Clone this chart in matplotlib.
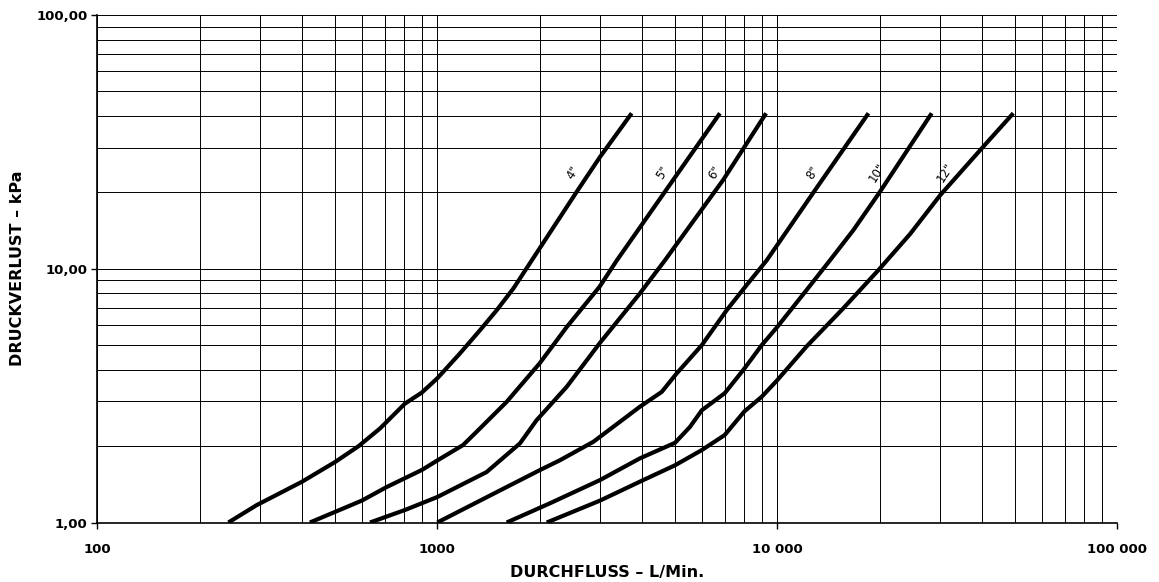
import matplotlib
matplotlib.use("Agg")
import matplotlib.pyplot as plt

# flow (L/Min.) and pressure loss (kPa), one pair of lists per pipe size
flow_4 = [243, 294, 399, 500, 587, 679, 803, 900, 1000, 1166, 1336, 1496, 1675, 1897, 2570, 3011, 3730]
loss_4 = [1.0, 1.17, 1.445, 1.73, 2.0, 2.35, 2.94, 3.25, 3.7, 4.64, 5.73, 6.87, 8.37, 10.8, 20.1, 27.6, 41.0]

flow_5 = [422, 600, 710, 900, 1003, 1191, 1306, 1600, 2000, 2404, 3000, 3375, 4942, 6780]
loss_5 = [1.0, 1.22, 1.38, 1.61, 1.76, 2.02, 2.28, 2.99, 4.24, 5.9, 8.49, 10.8, 22.4, 41.0]

flow_6 = [634, 803, 1000, 1396, 1750, 1959, 2404, 3000, 3945, 4673, 6934, 9270]
loss_6 = [1.0, 1.12, 1.26, 1.58, 2.05, 2.53, 3.43, 5.08, 8.0, 10.8, 22.4, 41.0]

flow_8 = [1000, 1600, 2005, 2296, 2877, 3945, 4571, 5060, 5998, 7101, 8128, 9310, 12910, 18540]
loss_8 = [1.0, 1.38, 1.61, 1.76, 2.08, 2.86, 3.27, 3.87, 5.0, 6.87, 8.63, 10.8, 20.4, 41.0]

flow_10 = [1600, 2143, 3011, 3945, 5000, 5534, 6000, 7000, 8000, 9000, 10000, 12190, 14290, 16740, 20040, 28450]
loss_10 = [1.0, 1.19, 1.47, 1.79, 2.06, 2.38, 2.77, 3.23, 4.04, 5.0, 5.9, 8.24, 10.8, 14.2, 20.1, 41.0]

flow_12 = [2099, 3011, 4036, 5000, 6000, 7000, 8000, 9000, 10000, 12190, 15630, 20000, 24570, 30140, 40360, 49440]
loss_12 = [1.0, 1.22, 1.47, 1.68, 1.93, 2.21, 2.74, 3.13, 3.64, 4.94, 6.98, 10.0, 13.7, 19.5, 30.3, 41.0]

sizes = ['4"', '5"', '6"', '8"', '10"', '12"']
flows = [flow_4, flow_5, flow_6, flow_8, flow_10, flow_12]
losses = [loss_4, loss_5, loss_6, loss_8, loss_10, loss_12]

x_ticks = [100, 1000, 10000, 100000]
x_labels = ['100', '1000', '10 000', '100 000']
y_ticks = [1, 10, 100]
y_labels = ['1,00', '10,00', '100,00']

# where the size labels sit, just left of each curve
label_x = [2506, 4615, 6560, 12740, 19630, 31100]
label_y = 24.0

plt.rcParams['font.family'] = ['DejaVu Sans']

fig = plt.figure(figsize=(11.59, 5.82), dpi=100)
ax = fig.add_axes([97.3 / 1159, 1 - 522.5 / 582, 1020 / 1159, 507.5 / 582])

ax.set_xscale('log')
ax.set_yscale('log')
ax.set_xlim(100, 100000)
ax.set_ylim(1, 100)

ax.grid(True, which='both', color='black', linewidth=0.7)
ax.set_axisbelow(True)

for fl, lo in zip(flows, losses):
    ax.plot(fl, lo, color='black', linewidth=3.0, solid_capstyle='butt', solid_joinstyle='round')

for name, lx in zip(sizes, label_x):
    ax.text(lx, label_y, name, fontsize=8.5, rotation=57, ha='center', va='center')

ax.set_xticks(x_ticks, labels=x_labels)
ax.set_yticks(y_ticks, labels=y_labels)
ax.tick_params(which='minor', length=0)
ax.tick_params(which='major', length=4, width=1, direction='out')
ax.tick_params(axis='x', pad=11)
ax.tick_params(axis='y', pad=3)
for lab in ax.get_xticklabels() + ax.get_yticklabels():
    lab.set_fontweight('bold')
    lab.set_fontsize(9.5)

for side in ['top', 'right']:
    ax.spines[side].set_visible(False)
ax.spines['left'].set_linewidth(1.2)
ax.spines['bottom'].set_linewidth(1.2)

ax.set_xlabel('DURCHFLUSS – L/Min.', fontsize=11.5, fontweight='bold')
ax.xaxis.set_label_coords(0.5, -0.084)
ax.set_ylabel('DRUCKVERLUST – kPa', fontsize=11.5, fontweight='bold')
ax.yaxis.set_label_coords(-0.071, 0.5)

fig.savefig('out.png', dpi=100)
